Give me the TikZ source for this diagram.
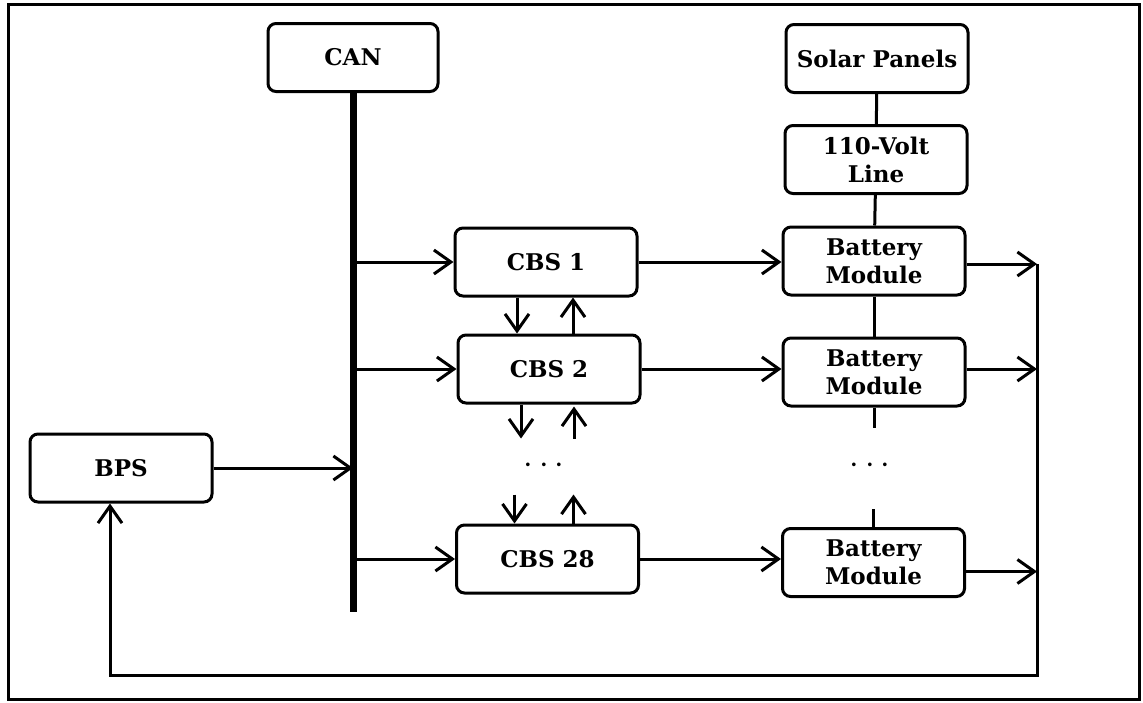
\documentclass[tikz,border=0pt]{standalone}
\usepackage{fontspec}
\setmainfont{DejaVu Serif}
\usetikzlibrary{arrows.meta, positioning, calc}
\tikzset{
    unitbox/.style={
        rectangle, rounded corners=4pt, draw=black, fill=white,
        line width=1.5pt, align=center, inner sep=0pt,
        minimum width=91pt, minimum height=34pt,
        font=\fontsize{11.5}{14}\selectfont\bfseries
    },
    dotsnode/.style={font=\fontsize{17}{17}\selectfont, inner sep=0pt},
    arrow/.style={-{Straight Barb[length=8.5pt,width=12pt]}, line width=1.5pt},
    link/.style={line width=1.5pt},
}

\begin{document}
\begin{tikzpicture}[x=0.5pt, y=-0.5pt]
    \useasboundingbox (0,0) rectangle (1143,702);
    \draw[line width=1.5pt] (8,4) rectangle (1139,699);

    % CAN bus
    \node[unitbox, minimum width=85pt] (can) at (353,57.5) {CAN};
    \coordinate (busend) at (353,612);
    \draw[line width=3.5pt] (can.south) -- (busend);

    % power sources
    \node[unitbox] (solar) at (877,58.5) {Solar Panels};
    \node[unitbox] (volt) at (876,159.5) {110-Volt\\Line};

    % controllers
    \node[unitbox] (cbs1) at (546,262) {CBS 1};
    \node[unitbox] (cbs2) at (549,369) {CBS 2};
    \node[unitbox] (cbs28) at (547.5,559) {CBS 28};
    \node[dotsnode] (cdots) at (544,466) {$\cdots$};

    % battery modules
    \node[unitbox] (bm1) at (874,261) {Battery\\Module};
    \node[unitbox] (bm2) at (874,372) {Battery\\Module};
    \node[unitbox] (bm3) at (873.5,562.5) {Battery\\Module};
    \node[dotsnode] (bdots) at (870,466) {$\cdots$};

    \node[unitbox] (bps) at (121,468) {BPS};

    % bus to controllers
    \draw[arrow] (can.south |- cbs1.west) -- (cbs1.west);
    \draw[arrow] (can.south |- cbs2.west) -- (cbs2.west);
    \draw[arrow] (can.south |- cbs28.west) -- (cbs28.west);
    \draw[arrow] (bps.east) -- (bps.east -| can.south);

    % controller chain
    \draw[arrow] ([xshift=-14.5pt]cbs1.south) -- ([xshift=-16pt]cbs2.north);
    \draw[arrow] ([xshift=12pt]cbs2.north) -- ([xshift=13.5pt]cbs1.south);
    \draw[arrow] ([xshift=-14pt]cbs2.south) -- ++(0,34);
    \draw[arrow] ([xshift=12.5pt]cbs2.south) ++(0,34) -- ++(0,-32);
    \draw[arrow] ([xshift=-16.5pt]cbs28.north) ++(0,-29) -- ([xshift=-16.5pt]cbs28.north);
    \draw[arrow] ([xshift=13pt]cbs28.north) -- ++(0,-29);

    % controllers to modules
    \draw[arrow] (cbs1.east) -- (cbs1.east -| bm1.west);
    \draw[arrow] (cbs2.east) -- (cbs2.east -| bm2.west);
    \draw[arrow] (cbs28.east) -- (cbs28.east -| bm3.west);

    % power chain
    \draw[link] (solar) -- (volt);
    \draw[link] (volt) -- (bm1);
    \draw[link] (bm1) -- (bm2);
    \draw[link] (bm2.south) -- ++(0,20);
    \draw[link] (bm3.north) -- ++(0,-18);

    % return path to BPS
    \coordinate (railtop) at (1037,264);
    \coordinate (railbot) at (1037,675);
    \coordinate (fbcorner) at (110,675);
    \draw[arrow] ([yshift=-1.5pt]bm1.east) -- ([yshift=-1.5pt]bm1.east -| railtop);
    \draw[arrow] ([yshift=1.5pt]bm2.east) -- ([yshift=1.5pt]bm2.east -| railtop);
    \draw[arrow] ([yshift=-4.5pt]bm3.east) -- ([yshift=-4.5pt]bm3.east -| railtop);
    \draw[arrow] (railtop) -- (railbot) -- (fbcorner) -- (fbcorner |- bps.south);
\end{tikzpicture}
\end{document}
